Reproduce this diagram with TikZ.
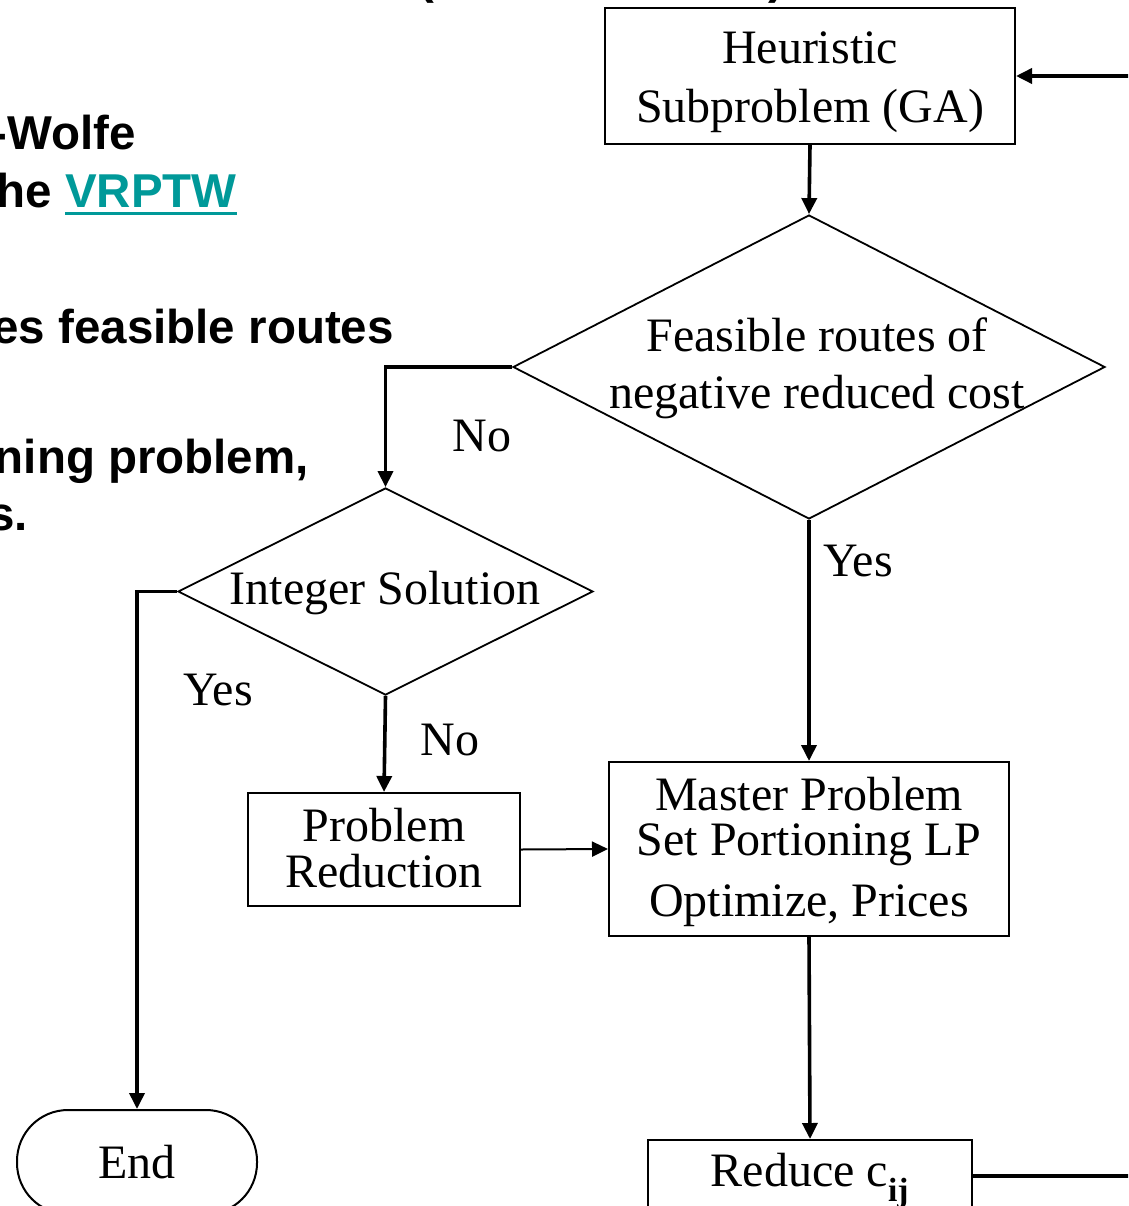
\documentclass[tikz,border=0pt]{standalone}
\usepackage{fontspec}
\setmainfont{Liberation Serif}
\newfontfamily\headsans{Liberation Sans}
\usetikzlibrary{shapes.geometric,arrows.meta}
\definecolor{vrteal}{HTML}{009999}
\newcommand\myul[1]{\setbox0\hbox{#1}\rlap{\rule[-7pt]{\wd0}{3pt}}\box0}
\begin{document}
\begin{tikzpicture}[x=1pt,y=-1pt,
  every node/.style={font=\fontsize{48}{57}\selectfont},
  box/.style={draw, line width=2pt, rectangle, inner sep=0pt},
  dia/.style={draw, line width=1.8pt, diamond, inner sep=0pt},
  conn/.style={line width=3.6pt, -{Triangle[length=16pt,width=15pt]}},
  lab/.style={inner sep=0pt, align=center},
  side/.style={font=\headsans\bfseries\fontsize{47.5}{50}\selectfont, anchor=base east, inner sep=0pt}
]
\useasboundingbox (0,0) rectangle (1128,1206);
\clip (0,0) rectangle (1128,1206);
\fill[white] (0,0) rectangle (1128,1206);

% left slide text (cut off)
\node[side] (t1) at (136,150) {-Wolfe};
\node[side] (t2) at (237,208) {he \textcolor{vrteal}{\myul{VRPTW}}};
\node[side] (t3) at (394,343) {es feasible routes};
\node[side] (t4) at (309,473) {ning problem,};
\node[side] (t5) at (28,530) {s.};
\node[side, anchor=base west] (p1) at (418,-6) {(};
\node[side, anchor=base west] (p2) at (768,-6) {)};

% flowchart shapes
\node[box, minimum width=410pt, minimum height=136pt] (heur) at (810,76) {};
\node[lab, font=\fontsize{48}{59}\selectfont] (heurt) at (810,82) {Heuristic\\Subproblem (GA)};
\node[dia, minimum width=592pt, minimum height=304pt] (d1) at (809,367) {};
\node[lab] (d1t) at (817,368) {Feasible routes of\\negative reduced cost};
\node[dia, minimum width=415pt, minimum height=207pt] (d2) at (385.5,591.5) {};
\node[lab] (d2t) at (385,593) {Integer Solution};
\node[box, minimum width=272pt, minimum height=113pt] (pr) at (384,849.5) {};
\node[lab, font=\fontsize{48}{46}\selectfont] (prt) at (384,848) {Problem\\Reduction};
\node[box, minimum width=400pt, minimum height=174pt] (mast) at (809,849) {};
\node[lab, font=\fontsize{48}{45}\selectfont] (mastt) at (809,852) {Master Problem\\Set Portioning LP\\[16pt]Optimize, Prices};
\node[box, minimum width=324pt, minimum height=72pt] (red) at (810,1176) {};
\node[lab] (redt) at (810,1181) {Reduce c\textsubscript{\textbf{ij}}};
\node[draw, line width=2pt, rounded corners=51pt, minimum width=240pt, minimum height=104pt, inner sep=0pt] (end) at (137,1162) {End};
\coordinate (loopA) at (1150,1176);

% branch labels
\node[lab] (no1) at (482,436) {No};
\node[lab] (yes1) at (858,561) {Yes};
\node[lab] (yes2) at (218,690) {Yes};
\node[lab] (no2) at (450,740) {No};

% connectors
\draw[conn] (heur.south) -- (d1.north);
\draw[conn] (d1.west) -| (d2.north);
\draw[conn] (d2.west) -| (end.north);
\draw[conn] (d2.south) -- (pr.north);
\draw[conn, line width=2pt] (pr.east) -- (mast.west);
\draw[conn] (d1.south) -- (mast.north);
\draw[conn] (mast.south) -- (red.north);
\draw[conn] (red.east) -- (loopA) |- (heur.east);
\end{tikzpicture}
\end{document}
